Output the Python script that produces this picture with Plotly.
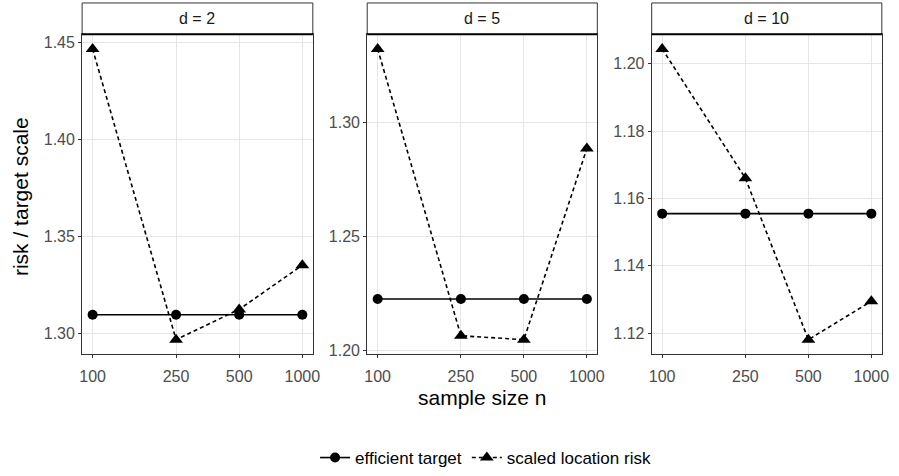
import plotly.graph_objects as go
import math

# ---- data ----
sample_sizes = [100, 250, 500, 1000]
dims = ["d = 2", "d = 5", "d = 10"]
efficient_d2 = [1.3095, 1.3095, 1.3095, 1.3095]
scaled_d2 = [1.4465, 1.2967, 1.3123, 1.3350]
efficient_d5 = [1.2225, 1.2225, 1.2225, 1.2225]
scaled_d5 = [1.3322, 1.2064, 1.2047, 1.2885]
efficient_d10 = [1.1555, 1.1555, 1.1555, 1.1555]
scaled_d10 = [1.2044, 1.1660, 1.1181, 1.1295]
x_ticks = [100, 250, 500, 1000]
y_dticks = [0.05, 0.05, 0.02]

efficient = [efficient_d2, efficient_d5, efficient_d10]
scaled = [scaled_d2, scaled_d5, scaled_d10]

W, H = 899, 476
FONT = "Liberation Sans, Arial, Helvetica, sans-serif"

def px_x(p):
    return p / W

def px_y(p):
    return 1 - p / H

panels_px = [(80, 313.3), (368.3, 601), (656, 888.7)]
top_px, bottom_px, strip_top_px = 34, 360, 2

fig = go.Figure()
layout = dict(
    width=W, height=H,
    margin=dict(l=0, r=0, t=0, b=0),
    paper_bgcolor="white", plot_bgcolor="white",
    font=dict(family=FONT, color="#1A1A1A"),
    showlegend=True,
    legend=dict(orientation="h", x=px_x(488), y=px_y(466), xanchor="center", yanchor="middle",
                font=dict(size=17, color="black", family=FONT), itemwidth=30,
                bgcolor="rgba(0,0,0,0)", traceorder="normal"),
)
shapes = []
annotations = []

lx0, lx1 = math.log10(min(sample_sizes)), math.log10(max(sample_sizes))
lpad = 0.05 * (lx1 - lx0)

for i, (name, eff, sc) in enumerate(zip(dims, efficient, scaled)):
    k = "" if i == 0 else str(i + 1)
    xa, ya = "x" + k, "y" + k
    fig.add_trace(go.Scatter(
        x=sample_sizes, y=eff, xaxis=xa, yaxis=ya, mode="lines+markers",
        name="efficient target", legendgroup="eff", showlegend=(i == 0),
        line=dict(color="black", width=1.6),
        marker=dict(symbol="circle", size=10, color="black")))
    fig.add_trace(go.Scatter(
        x=sample_sizes, y=sc, xaxis=xa, yaxis=ya, mode="lines+markers",
        name="scaled location risk", legendgroup="slr", showlegend=(i == 0),
        line=dict(color="black", width=1.6, dash="4px,3px"),
        marker=dict(symbol="triangle-up", size=12, color="black")))

    allv = eff + sc
    lo, hi = min(allv), max(allv)
    pad = 0.05 * (hi - lo)
    x0p, x1p = panels_px[i]
    common = dict(showline=True, mirror=True, linecolor="#333333", linewidth=1,
                  showgrid=True, gridcolor="#E6E6E6", gridwidth=1.3,
                  ticks="outside", ticklen=3, tickcolor="#333333", tickwidth=1,
                  tickfont=dict(size=16, color="#4D4D4D", family=FONT), zeroline=False)
    layout["xaxis" + k] = dict(
        common, type="log", domain=[px_x(x0p), px_x(x1p)], anchor=ya,
        range=[lx0 - lpad, lx1 + lpad], tickvals=x_ticks, ticktext=[str(t) for t in x_ticks],
        ticklabelstandoff=5)
    layout["yaxis" + k] = dict(
        common, domain=[px_y(bottom_px), px_y(top_px)], anchor=xa,
        range=[lo - pad, hi + pad], dtick=y_dticks[i], tick0=0, tickformat=".2f")
    # strip
    shapes.append(dict(type="rect", xref="paper", yref="paper",
                       x0=px_x(x0p), x1=px_x(x1p), y0=px_y(top_px), y1=px_y(strip_top_px),
                       line=dict(color="#333333", width=1), fillcolor="white", layer="above"))
    shapes.append(dict(type="line", xref="paper", yref="paper",
                       x0=px_x(x0p), x1=px_x(x1p), y0=px_y(top_px), y1=px_y(top_px),
                       line=dict(color="black", width=2), layer="above"))
    annotations.append(dict(text=name, xref="paper", yref="paper",
                            x=px_x((x0p + x1p) / 2), y=px_y((top_px + strip_top_px) / 2),
                            showarrow=False, xanchor="center", yanchor="middle",
                            font=dict(size=16, color="#1A1A1A", family=FONT)))

annotations.append(dict(text="risk / target scale", xref="paper", yref="paper",
                        x=px_x(17), y=px_y(199), textangle=-90, showarrow=False,
                        xanchor="center", yanchor="middle",
                        font=dict(size=21, color="black", family=FONT)))
annotations.append(dict(text="sample size n", xref="paper", yref="paper",
                        x=px_x(484.5), y=px_y(404), showarrow=False,
                        xanchor="center", yanchor="middle",
                        font=dict(size=21, color="black", family=FONT)))

layout["shapes"] = shapes
layout["annotations"] = annotations
fig.update_layout(**layout)
fig.write_html("out.html", config={"displayModeBar": False},
               post_script="document.body.style.margin='0px';")
